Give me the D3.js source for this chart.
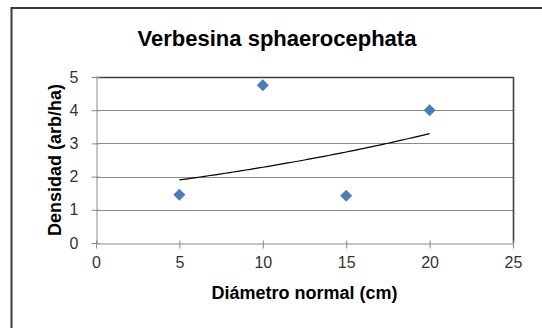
<!DOCTYPE html>
<html>
<head>
<meta charset="utf-8">
<script src="https://cdn.jsdelivr.net/npm/d3@7"></script>
<style>
  html, body { margin: 0; padding: 0; background: #fff; }
  svg { display: block; font-family: "Liberation Sans", Arial, sans-serif; }
</style>
</head>
<body>
<svg id="chart" width="542" height="328"></svg>
<script>
// Stem diameter classes and tree density per class
const diameters = [5, 10, 15, 20];
const densities = [1.45, 4.75, 1.42, 4.0];
const xTicks = [0, 5, 10, 15, 20, 25];
const yTicks = [0, 1, 2, 3, 4, 5];
const chartTitle = "Verbesina sphaerocephata";
const xTitle = "Diámetro normal (cm)";
const yTitle = "Densidad (arb/ha)";

const svg = d3.select("#chart");
const W = 542, H = 328;
const plot = { left: 96, right: 513, top: 77, bottom: 243 };
const FONT = "'Liberation Sans', Arial, sans-serif";

// Chart area frame (runs past the right and bottom edges)
svg.append("rect")
  .attr("x", 11.5).attr("y", 8)
  .attr("width", W).attr("height", H)
  .attr("fill", "#fff").attr("stroke", "#3a3a3a").attr("stroke-width", 2);

const x = d3.scaleLinear().domain([0, 25]).range([plot.left, plot.right]);
const y = d3.scaleLinear().domain([0, 5]).range([plot.bottom, plot.top]);

// Horizontal gridlines
svg.append("g").selectAll("line")
  .data(yTicks.filter(v => v > 0 && v < 5))
  .join("line")
  .attr("x1", plot.left).attr("x2", plot.right)
  .attr("y1", d => Math.round(y(d)) + 0.5).attr("y2", d => Math.round(y(d)) + 0.5)
  .attr("stroke", "#8a8a8a").attr("stroke-width", 1);

// Plot area border on top and right
svg.append("path")
  .attr("d", `M${plot.left},${plot.top + 0.5}H${plot.right + 0.5}V${plot.bottom}`)
  .attr("fill", "none").attr("stroke", "#404040").attr("stroke-width", 1.6);

// Y axis with crossing tick marks
const yAxis = svg.append("g")
  .attr("transform", `translate(${plot.left + 0.5},0)`)
  .call(d3.axisLeft(y).tickValues(yTicks).tickFormat(d3.format("d"))
    .tickSizeInner(5).tickSizeOuter(0).tickPadding(13));
yAxis.selectAll(".tick line").attr("x1", 3).attr("x2", -5);

// X axis with crossing tick marks
const xAxis = svg.append("g")
  .attr("transform", `translate(0,${plot.bottom + 0.5})`)
  .call(d3.axisBottom(x).tickValues(xTicks).tickFormat(d3.format("d"))
    .tickSizeInner(5).tickSizeOuter(0).tickPadding(8));
xAxis.selectAll(".tick line").attr("y1", -3).attr("y2", 5);

[yAxis, xAxis].forEach(a => {
  a.select(".domain").attr("stroke", "#8a8a8a");
  a.selectAll(".tick line").attr("stroke", "#8a8a8a");
  a.selectAll(".tick text")
    .attr("fill", "#333").attr("font-size", 16).attr("font-family", FONT);
});

// Exponential trend fitted by least squares on ln(density)
const lx = diameters, ly = densities.map(Math.log);
const mx = d3.mean(lx), my = d3.mean(ly);
const b = d3.sum(lx, (v, i) => (v - mx) * (ly[i] - my)) / d3.sum(lx, v => (v - mx) ** 2);
const a = my - b * mx;
const x0 = d3.min(diameters), x1 = d3.max(diameters);
const trendX = d3.range(0, 61).map(i => x0 + i * (x1 - x0) / 60);
svg.append("path")
  .datum(trendX)
  .attr("d", d3.line().x(d => x(d)).y(d => y(Math.exp(a + b * d))))
  .attr("fill", "none").attr("stroke", "#000").attr("stroke-width", 1.2);

// Data markers (diamonds)
svg.append("g").selectAll("path")
  .data(diameters.map((d, i) => [d, densities[i]]))
  .join("path")
  .attr("d", d3.symbol().type(d3.symbolSquare).size(72))
  .attr("transform", d => `translate(${x(d[0])},${y(d[1])}) rotate(45)`)
  .attr("fill", "#4a7ebb");

// Titles
svg.append("text")
  .attr("x", 277).attr("y", 46)
  .attr("text-anchor", "middle")
  .attr("font-size", 22).attr("font-weight", "bold").attr("fill", "#000")
  .text(chartTitle);

svg.append("text")
  .attr("x", (plot.left + plot.right) / 2).attr("y", 299)
  .attr("text-anchor", "middle")
  .attr("font-size", 18).attr("font-weight", "bold").attr("fill", "#000")
  .text(xTitle);

svg.append("text")
  .attr("transform", `translate(61,${(plot.top + plot.bottom) / 2}) rotate(-90)`)
  .attr("text-anchor", "middle")
  .attr("font-size", 18).attr("font-weight", "bold").attr("fill", "#000")
  .text(yTitle);
</script>
</body>
</html>
